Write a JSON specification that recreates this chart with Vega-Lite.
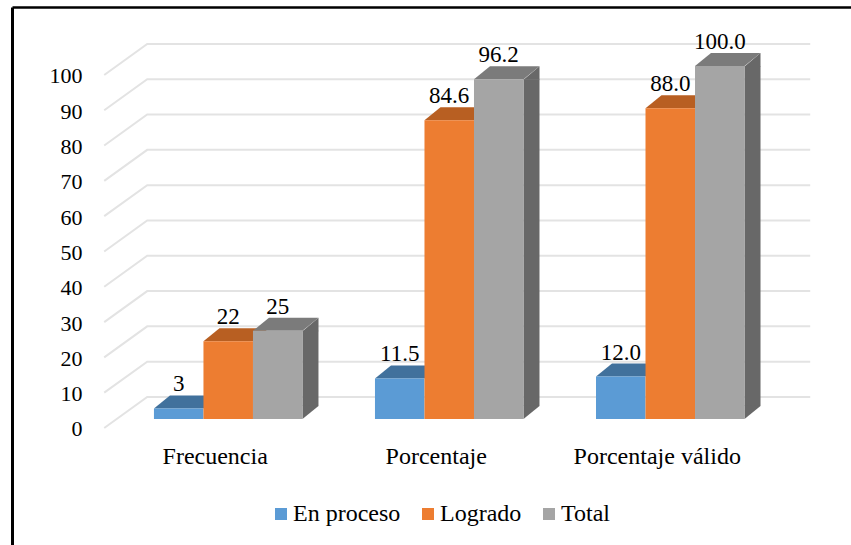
{
  "$schema": "https://vega.github.io/schema/vega-lite/v6.json",
  "width": 839,
  "height": 538,
  "autosize": "none",
  "padding": {"left": 12, "top": 7, "right": 0, "bottom": 0},
  "background": "white",
  "view": {"stroke": null},
  "config": {"font": "Liberation Serif"},
  "data": {
    "values": [
      {"grupo": "Frecuencia", "serie": "En proceso", "valor": 3, "etiqueta": "3"},
      {"grupo": "Frecuencia", "serie": "Logrado", "valor": 22, "etiqueta": "22"},
      {"grupo": "Frecuencia", "serie": "Total", "valor": 25, "etiqueta": "25"},
      {"grupo": "Porcentaje", "serie": "En proceso", "valor": 11.5, "etiqueta": "11.5"},
      {"grupo": "Porcentaje", "serie": "Logrado", "valor": 84.6, "etiqueta": "84.6"},
      {"grupo": "Porcentaje", "serie": "Total", "valor": 96.2, "etiqueta": "96.2"},
      {"grupo": "Porcentaje válido", "serie": "En proceso", "valor": 12.0, "etiqueta": "12.0"},
      {"grupo": "Porcentaje válido", "serie": "Logrado", "valor": 88.0, "etiqueta": "88.0"},
      {"grupo": "Porcentaje válido", "serie": "Total", "valor": 100.0, "etiqueta": "100.0"}
    ]
  },
  "resolve": {"axis": {"x": "independent", "y": "independent"}, "legend": {"fill": "independent"}},
  "layer": [
    {
      "data": {"values": [{"marca": 0}, {"marca": 10}, {"marca": 20}, {"marca": 30}, {"marca": 40}, {"marca": 50}, {"marca": 60}, {"marca": 70}, {"marca": 80}, {"marca": 90}, {"marca": 100}]},
      "mark": {"type": "point", "shape": "M-124,9 L-81,-22 L582,-22", "size": 4, "filled": false, "opacity": 1, "stroke": "#E3E3E3", "strokeWidth": 2},
      "encoding": {
        "x": {
          "datum": "Frecuencia",
          "type": "nominal",
          "scale": {"domain": ["Frecuencia", "Porcentaje", "Porcentaje válido"], "paddingInner": 0.328, "paddingOuter": 0.562, "align": 0.5714},
          "axis": {"orient": "top", "title": null, "labels": false, "ticks": false, "grid": false, "domain": true, "domainColor": "#000000", "domainWidth": 2.5}
        },
        "y": {
          "field": "marca",
          "type": "quantitative",
          "scale": {"domain": [-35.7, 116.7], "nice": false, "zero": false},
          "axis": {"orient": "left", "title": null, "labels": false, "ticks": false, "grid": false, "domain": true, "domainColor": "#000000", "domainWidth": 3, "values": [0]}
        }
      }
    },
    {
      "data": {"values": [{"marca": 0}, {"marca": 10}, {"marca": 20}, {"marca": 30}, {"marca": 40}, {"marca": 50}, {"marca": 60}, {"marca": 70}, {"marca": 80}, {"marca": 90}, {"marca": 100}]},
      "mark": {"type": "point", "opacity": 0, "size": 1},
      "encoding": {
        "x": {
          "datum": "Frecuencia",
          "type": "nominal",
          "axis": {"orient": "bottom", "offset": -126, "title": null, "domain": false, "ticks": false, "grid": false, "labelAngle": 0, "labelPadding": 25, "labelOffset": -13, "labelFontSize": 24, "labelFont": "Liberation Serif", "labelColor": "#000000", "labelOverlap": false}
        },
        "y": {
          "field": "marca",
          "type": "quantitative",
          "axis": {"orient": "left", "offset": -80, "title": null, "domain": false, "ticks": false, "grid": false, "values": [0, 10, 20, 30, 40, 50, 60, 70, 80, 90, 100], "labelPadding": 10, "labelOffset": 10, "labelFontSize": 22, "labelFont": "Liberation Serif", "labelColor": "#000000", "labelOverlap": false, "labelFlush": false}
        }
      }
    },
    {
      "mark": {"type": "point", "shape": "M-24.75,0 L-8.75,-13 L40.75,-13 L24.75,0 Z", "size": 4, "filled": true, "opacity": 1, "strokeWidth": 0},
      "encoding": {
        "x": {"field": "grupo", "type": "nominal", "axis": null},
        "xOffset": {"field": "serie", "type": "nominal", "scale": {"domain": ["En proceso", "Logrado", "Total"], "paddingInner": 0, "paddingOuter": 0}},
        "y": {"field": "valor", "type": "quantitative", "axis": null},
        "fill": {"field": "serie", "type": "nominal", "legend": null, "scale": {"domain": ["En proceso", "Logrado", "Total"], "range": ["#41719C", "#B85F22", "#7B7B7B"]}}
      }
    },
    {
      "transform": [{"filter": "datum.serie === 'Total'"}],
      "mark": {"type": "bar", "width": 16, "xOffset": 82.25, "y2Offset": -13, "color": "#686868"},
      "encoding": {
        "x": {"field": "grupo", "type": "nominal", "axis": null},
        "y": {"field": "valor", "type": "quantitative", "axis": null, "stack": null},
        "y2": {"datum": 0}
      }
    },
    {
      "transform": [{"filter": "datum.serie === 'Total'"}],
      "mark": {"type": "point", "shape": "M24.75,0.5 L40.75,-13 L40.75,0.5 Z", "size": 4, "filled": true, "opacity": 1, "strokeWidth": 0, "color": "#686868"},
      "encoding": {
        "x": {"field": "grupo", "type": "nominal", "axis": null},
        "xOffset": {"field": "serie", "type": "nominal"},
        "y": {"field": "valor", "type": "quantitative", "axis": null}
      }
    },
    {
      "transform": [{"filter": "datum.serie === 'Total'"}],
      "mark": {"type": "point", "shape": "M24.75,0 L40.75,-13 L24.75,-13.5 Z", "size": 4, "filled": true, "opacity": 1, "strokeWidth": 0, "color": "#686868"},
      "encoding": {
        "x": {"field": "grupo", "type": "nominal", "axis": null},
        "xOffset": {"field": "serie", "type": "nominal"},
        "y": {"datum": 0, "type": "quantitative", "axis": null}
      }
    },
    {
      "mark": {"type": "bar"},
      "encoding": {
        "x": {"field": "grupo", "type": "nominal", "axis": null},
        "xOffset": {"field": "serie", "type": "nominal"},
        "y": {"field": "valor", "type": "quantitative", "axis": null, "stack": null},
        "y2": {"datum": 0},
        "color": {
          "field": "serie",
          "type": "nominal",
          "scale": {"domain": ["En proceso", "Logrado", "Total"], "range": ["#5B9BD5", "#ED7D31", "#A5A5A5"]},
          "legend": {"orient": "none", "legendX": 257, "legendY": 495, "direction": "horizontal", "columns": 3, "title": null, "symbolType": "square", "symbolSize": 144, "symbolStrokeWidth": 0, "symbolOpacity": 1, "labelFontSize": 24, "labelFont": "Liberation Serif", "labelColor": "#000000", "labelOffset": 0, "columnPadding": 15, "labelLimit": 200}
        }
      }
    },
    {
      "mark": {"type": "text", "font": "Liberation Serif", "fontSize": 23, "color": "#000000", "baseline": "middle", "dy": -24},
      "encoding": {
        "x": {"field": "grupo", "type": "nominal", "axis": null},
        "xOffset": {"field": "serie", "type": "nominal"},
        "y": {"field": "valor", "type": "quantitative", "axis": null},
        "text": {"field": "etiqueta", "type": "nominal"}
      }
    }
  ]
}
